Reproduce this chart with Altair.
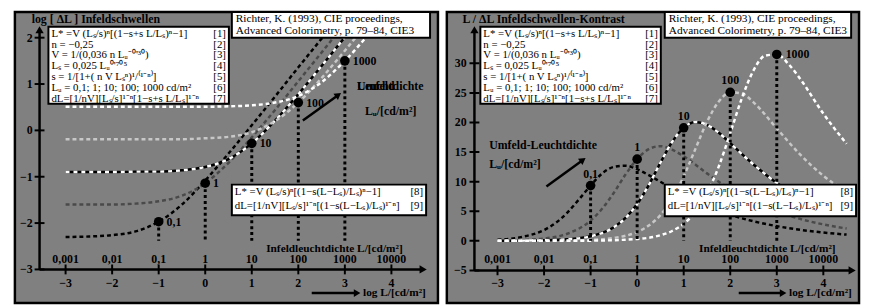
import altair as alt
import pandas as pd

# ---------------- data ----------------
LU_LABELS = ["0,1", "1", "10", "100", "1000"]
LOG_LU = [-1, 0, 1, 2, 3]

# left panel: log ΔL against log L, one list per surround luminance Lu
LEFT_X = [-3, -2.5, -2, -1.5, -1, -0.5, 0, 0.5, 1, 1.5, 2, 2.5, 3, 3.5, 4]
LEFT_Y_01 = [-2.30, -2.29, -2.26, -2.18, -1.97, -1.60, -1.08, -0.50, 0.11, 0.73, 1.36, 1.98, 2.61]
LEFT_Y_1 = [-1.60, -1.60, -1.60, -1.58, -1.53, -1.41, -1.14, -0.70, -0.15, 0.44, 1.06, 1.68, 2.31, 2.93]
LEFT_Y_10 = [-0.90, -0.90, -0.90, -0.89, -0.89, -0.86, -0.79, -0.62, -0.28, 0.21, 0.78, 1.39, 2.01, 2.63]
LEFT_Y_100 = [-0.19, -0.19, -0.19, -0.19, -0.19, -0.19, -0.17, -0.14, -0.04, 0.20, 0.60, 1.13, 1.72, 2.34, 2.96]
LEFT_Y_1000 = [0.51, 0.51, 0.51, 0.51, 0.51, 0.51, 0.51, 0.52, 0.54, 0.60, 0.74, 1.04, 1.50, 2.06, 2.67]
LEFT_DOT_Y = [-1.97, -1.14, -0.28, 0.60, 1.50]
LEFT_DROP_Y = -2.38

# right panel: L / ΔL against log L
RIGHT_X_01 = [-3, -2.5, -2, -1.75, -1.5, -1.25, -1, -0.75, -0.5, -0.25, 0, 0.25, 0.5, 1, 1.5, 2, 2.5, 3, 3.5, 4, 4.5]
RIGHT_Y_01 = [0.20, 0.62, 1.83, 3.02, 4.76, 7.0, 9.33, 11.4, 12.5, 12.7, 12.1, 11.1, 9.98, 7.73, 5.85, 4.40, 3.30, 2.48, 1.86, 1.40, 1.05]
RIGHT_X_1 = [-3, -2.5, -2, -1.5, -1, -0.75, -0.5, -0.25, 0, 0.25, 0.5, 0.75, 1, 1.5, 2, 2.5, 3, 3.5, 4, 4.5]
RIGHT_Y_1 = [0.04, 0.13, 0.39, 1.20, 3.42, 5.45, 8.13, 11.2, 13.8, 15.5, 16.0, 15.4, 14.3, 11.4, 8.71, 6.56, 4.93, 3.70, 2.78, 2.08]
RIGHT_X_10 = [-3, -2.5, -2, -1.5, -1, -0.5, -0.25, 0, 0.25, 0.5, 0.75, 1, 1.25, 1.5, 1.75, 2, 2.5, 3, 3.5, 4, 4.5]
RIGHT_Y_10 = [0.01, 0.03, 0.08, 0.25, 0.77, 2.30, 3.86, 6.21, 9.43, 13.2, 16.7, 19.1, 20.1, 19.6, 18.3, 16.5, 12.9, 9.79, 7.38, 5.54, 4.16]
RIGHT_X_100 = [-3, -2, -1, -0.5, 0, 0.25, 0.5, 0.75, 1, 1.25, 1.5, 1.75, 2, 2.25, 2.5, 3, 3.5, 4, 4.5]
RIGHT_Y_100 = [0.00, 0.02, 0.16, 0.49, 1.49, 2.58, 4.35, 7.07, 10.9, 15.5, 20.1, 23.5, 25.1, 24.9, 23.4, 19.0, 14.6, 11.0, 8.28]
RIGHT_X_1000 = [-3, -2, -1, 0, 0.5, 0.75, 1, 1.25, 1.5, 1.75, 2, 2.25, 2.5, 2.75, 3, 3.25, 3.5, 4, 4.5]
RIGHT_Y_1000 = [0.00, 0.00, 0.03, 0.31, 0.95, 1.66, 2.88, 4.89, 8.02, 12.5, 18.2, 24.1, 28.8, 31.3, 31.5, 29.9, 27.4, 21.5, 16.4]
RIGHT_DOT_Y = [9.33, 13.8, 19.1, 25.1, 31.5]
RIGHT_DROP_Y = 0

X_TICKS = [-3, -2, -1, 0, 1, 2, 3, 4]
X_TOP_LABELS = ["0,001", "0,01", "0,1", "1", "10", "100", "1000", "10000"]
X_BOTTOM_LABELS = ["−3", "−2", "−1", "0", "1", "2", "3", "4"]
LEFT_Y_TICKS = [-3, -2, -1, 0, 1, 2]
LEFT_Y_LABELS = ["−3", "−2", "−1", "0", "1", "2"]
RIGHT_Y_TICKS = [-5, 0, 5, 10, 15, 20, 25, 30]
RIGHT_Y_LABELS = ["−5", "0", "5", "10", "15", "20", "25", "30"]

EQ_LINES = [
    "L* =V (Lₛ/s)ⁿ[(1−s+s L/Lₛ)ⁿ−1]",
    "n = −0,25",
    "V = 1/(0,036 n Lᵤ⁻⁰'³⁰)",
    "Lₛ = 0,025 Lᵤ⁰'⁷⁰⁵",
    "s = 1/[1+( n V Lₛⁿ)¹/⁽¹⁻ⁿ⁾]",
    "Lᵤ = 0,1; 1; 10; 100; 1000 cd/m²",
    "dL=[1/nV][Lₛ/s]¹⁻ⁿ[1−s+s L/Lₛ]¹⁻ⁿ",
]
EQ_REFS = ["[1]", "[2]", "[3]", "[4]", "[5]", "[6]", "[7]"]
BOX2_LINES = ["L* =V (Lₛ/s)ⁿ[(1−s(L−Lₛ)/Lₛ)ⁿ−1]", "dL=[1/nV][Lₛ/s]¹⁻ⁿ[(1−s(L−Lₛ)/Lₛ)¹⁻ⁿ]"]
BOX2_REFS = ["[8]", "[9]"]
REF_LINES = ["Richter, K. (1993), CIE proceedings,", "Advanced Colorimetry, p. 79–84, CIE3"]

# ---------------- styling / layout ----------------
FONT = "Liberation Serif"
GRAY = "#808080"
TOP, HEIGHT = 8, 295
SERIES_STYLE = [
    {"color": "black", "dash": [4, 3]},
    {"color": "#4a4a4a", "dash": [4, 3]},
    {"color": "white", "dash": [4, 4], "under": "black"},
    {"color": "#c8c8c8", "dash": [4, 3]},
    {"color": "white", "dash": [4, 3]},
]

LEFT = dict(
    x0=13, width=429, ox=206, kx=47.2, oy=128, ky=47.0,
    curves=[(LEFT_X, LEFT_Y_01), (LEFT_X, LEFT_Y_1), (LEFT_X, LEFT_Y_10),
            (LEFT_X, LEFT_Y_100), (LEFT_X, LEFT_Y_1000)],
    dot_y=LEFT_DOT_Y, drop_y=LEFT_DROP_Y,
    yticks=LEFT_Y_TICKS, ylabels=LEFT_Y_LABELS, ymin=-3,
    axis_px=38, ylab_px=31, ytip_py=22, xtip_px=431,
    title="log [ ΔL ]  Infeldschwellen", title_px=30,
    eq_box=(47, 23, 230, 101), ref_box=(233, 8, 434, 34), box2=(233, 183, 430, 214),
    lum_labels=[(360, 83, "Leuchtdichte"), (360, 83, "Umfeld"), (368, 108, "Lᵤ/[cd/m²]")],
    arrow=((305, 118), (341, 92)),
    infeld=(337, 248), loglab=(366, 293), logarrow=((314, 293), (360, 293)),
    dot_label="right",
)
RIGHT = dict(
    x0=447, width=418, ox=640, kx=47.2, oy=240, ky=6.0,
    curves=[(RIGHT_X_01, RIGHT_Y_01), (RIGHT_X_1, RIGHT_Y_1), (RIGHT_X_10, RIGHT_Y_10),
            (RIGHT_X_100, RIGHT_Y_100), (RIGHT_X_1000, RIGHT_Y_1000)],
    dot_y=RIGHT_DOT_Y, drop_y=RIGHT_DROP_Y,
    yticks=RIGHT_Y_TICKS, ylabels=RIGHT_Y_LABELS, ymin=-5,
    axis_px=475, ylab_px=467, ytip_py=22, xtip_px=862,
    title="L / ΔL  Infeldschwellen-Kontrast", title_px=463,
    eq_box=(481, 23, 664, 101), ref_box=(668, 8, 857, 34), box2=(668, 183, 862, 215),
    lum_labels=[(490, 143, "Umfeld-Leuchtdichte"), (490, 162, "Lᵤ/[cd/m²]")],
    arrow=((548, 185), (585, 158)),
    infeld=(772, 248), loglab=(794, 293), logarrow=((743, 293), (788, 293)),
    dot_label="above",
)


def make_panel(c):
    ox, kx, oy, ky = c["ox"], c["kx"], c["oy"], c["ky"]
    px = lambda p: (p - ox) / kx
    py = lambda p: (oy - p) / ky
    xdom = [px(c["x0"]), px(c["x0"] + c["width"])]
    ydom = [py(TOP + HEIGHT), py(TOP)]
    xs = alt.Scale(domain=xdom, nice=False, zero=False)
    ys = alt.Scale(domain=ydom, nice=False, zero=False)

    def enc(extra=None):
        e = dict(x=alt.X("x:Q", scale=xs, axis=None), y=alt.Y("y:Q", scale=ys, axis=None))
        if extra:
            e.update(extra)
        return e

    layers = []
    # curves
    for (cx, cy), st in zip(c["curves"], SERIES_STYLE):
        df = pd.DataFrame({"x": cx[:len(cy)], "y": cy})
        if "under" in st:
            layers.append(alt.Chart(df).mark_line(clip=True, interpolate="monotone",
                                                  color=st["under"], strokeWidth=2.5).encode(**enc()))
        layers.append(alt.Chart(df).mark_line(clip=True, interpolate="monotone", color=st["color"],
                                              strokeWidth=2.5, strokeDash=st["dash"]).encode(**enc()))
    # drop lines and dots
    dots = pd.DataFrame({"x": LOG_LU, "y": c["dot_y"], "y2": [c["drop_y"]] * 5, "t": LU_LABELS})
    layers.append(alt.Chart(dots).mark_rule(clip=True, color="black", strokeWidth=3, strokeDash=[3, 3])
                  .encode(**enc({"y2": "y2:Q"})))
    layers.append(alt.Chart(dots).mark_circle(clip=True, color="black", opacity=1, size=95).encode(**enc()))
    if c["dot_label"] == "right":
        layers.append(alt.Chart(dots).mark_text(clip=True, font=FONT, fontSize=12, fontWeight="bold",
                                                align="left", baseline="middle", dx=8)
                      .encode(**enc({"text": "t:N"})))
    else:
        layers.append(alt.Chart(dots.iloc[:4]).mark_text(clip=True, font=FONT, fontSize=12, fontWeight="bold",
                                                         align="center", baseline="middle", dy=-12)
                      .encode(**enc({"text": "t:N"})))
        layers.append(alt.Chart(dots.iloc[4:]).mark_text(clip=True, font=FONT, fontSize=12, fontWeight="bold",
                                                         align="left", baseline="middle", dx=9)
                      .encode(**enc({"text": "t:N"})))

    # axes
    ax = px(c["axis_px"])
    ymin = c["ymin"]
    ytop = py(c["ytip_py"] + 6)
    xtip = px(c["xtip_px"] - 6)
    rules = pd.DataFrame({"x": [ax, ax], "x2": [ax, xtip], "y": [ymin, ymin], "y2": [ytop, ymin]})
    layers.append(alt.Chart(rules).mark_rule(clip=True, color="black", strokeWidth=2.5)
                  .encode(**enc({"x2": "x2:Q", "y2": "y2:Q"})))
    layers.append(alt.Chart(pd.DataFrame({"x": [ax], "y": [py(c["ytip_py"] + 4)]}))
                  .mark_point(clip=True, shape="triangle-up", filled=True, size=70, color="black", opacity=1)
                  .encode(**enc()))
    layers.append(alt.Chart(pd.DataFrame({"x": [px(c["xtip_px"] - 4)], "y": [ymin]}))
                  .mark_point(clip=True, shape="triangle-right", filled=True, size=70, color="black", opacity=1)
                  .encode(**enc()))
    hx, hy = 5 / kx, 5 / ky
    yt = pd.DataFrame({"x": [ax - hx] * len(c["yticks"]), "x2": [ax + hx] * len(c["yticks"]),
                       "y": c["yticks"], "y2": c["yticks"]})
    xt = pd.DataFrame({"x": X_TICKS, "x2": X_TICKS, "y": [ymin - hy] * 8, "y2": [ymin + hy] * 8})
    for df in (yt, xt):
        layers.append(alt.Chart(df).mark_rule(clip=True, color="black", strokeWidth=2)
                      .encode(**enc({"x2": "x2:Q", "y2": "y2:Q"})))

    def texts(rows, **kw):
        df = pd.DataFrame(rows, columns=["x", "y", "t"])
        style = dict(font=FONT, fontSize=12, baseline="middle", color="black")
        style.update(kw)
        return alt.Chart(df).mark_text(clip=True, **style).encode(**enc({"text": "t:N"}))

    layers.append(texts([(px(c["ylab_px"]), v, lab) for v, lab in zip(c["yticks"], c["ylabels"])],
                        align="right", fontWeight="bold"))
    layers.append(texts([(v, py(258), lab) for v, lab in zip(X_TICKS, X_TOP_LABELS)],
                        align="center", fontWeight="bold"))
    layers.append(texts([(v, py(283), lab) for v, lab in zip(X_TICKS, X_BOTTOM_LABELS)],
                        align="center", fontWeight="bold"))
    layers.append(texts([(px(c["infeld"][0]), py(c["infeld"][1]), "Infeldleuchtdichte L/[cd/m²]")],
                        align="center", fontWeight="bold", fontSize=11.5))
    layers.append(texts([(px(c["loglab"][0]), py(c["loglab"][1]), "log L/[cd/m²]")],
                        align="left", fontWeight="bold", fontSize=11.5))
    layers.append(texts([(px(c["title_px"]), py(15), c["title"])], align="left", fontWeight="bold"))
    layers.append(texts([(px(a), py(b), t) for a, b, t in c["lum_labels"]], align="left", fontWeight="bold"))

    # arrows
    for (p0, p1), ang, shape in ((c["arrow"], 54, "triangle-up"), (c["logarrow"], 0, "triangle-right")):
        adf = pd.DataFrame({"x": [px(p0[0])], "y": [py(p0[1])], "x2": [px(p1[0])], "y2": [py(p1[1])]})
        layers.append(alt.Chart(adf).mark_rule(clip=True, color="black", strokeWidth=2.5)
                      .encode(**enc({"x2": "x2:Q", "y2": "y2:Q"})))
        layers.append(alt.Chart(pd.DataFrame({"x": [px(p1[0])], "y": [py(p1[1])]}))
                      .mark_point(clip=True, shape=shape, angle=ang, filled=True, size=60,
                                  color="black", opacity=1).encode(**enc()))

    # boxes
    boxes = [c["eq_box"], c["ref_box"], c["box2"]]
    bdf = pd.DataFrame({"x": [px(b[0]) for b in boxes], "x2": [px(b[2]) for b in boxes],
                        "y": [py(b[1]) for b in boxes], "y2": [py(b[3]) for b in boxes]})
    layers.append(alt.Chart(bdf).mark_rect(clip=True, fill="white", stroke="black", strokeWidth=2)
                  .encode(**enc({"x2": "x2:Q", "y2": "y2:Q"})))
    e = c["eq_box"]
    layers.append(texts([(px(e[0] + 3), py(e[1] + 7 + 11 * i), t) for i, t in enumerate(EQ_LINES)],
                        align="left", fontSize=11))
    layers.append(texts([(px(e[2] - 3), py(e[1] + 7 + 11 * i), t) for i, t in enumerate(EQ_REFS)],
                        align="right", fontSize=11))
    r = c["ref_box"]
    layers.append(texts([(px(r[0] + 4), py(r[1] + 7 + 12 * i), t) for i, t in enumerate(REF_LINES)],
                        align="left", fontSize=11.5))
    b2 = c["box2"]
    layers.append(texts([(px(b2[0] + 3), py(b2[1] + 8 + 14 * i), t) for i, t in enumerate(BOX2_LINES)],
                        align="left", fontSize=11))
    layers.append(texts([(px(b2[2] - 3), py(b2[1] + 8 + 14 * i), t) for i, t in enumerate(BOX2_REFS)],
                        align="right", fontSize=11))

    return alt.layer(*layers).properties(width=c["width"], height=HEIGHT)


chart = (
    alt.hconcat(make_panel(LEFT), make_panel(RIGHT), spacing=5)
    .properties(padding={"left": 5, "top": 0, "right": 0, "bottom": 0}, background="white")
    .configure_view(fill=GRAY, stroke="black", strokeWidth=2.5)
)
chart.save("out.html", embed_options={"renderer": "svg", "actions": False})
